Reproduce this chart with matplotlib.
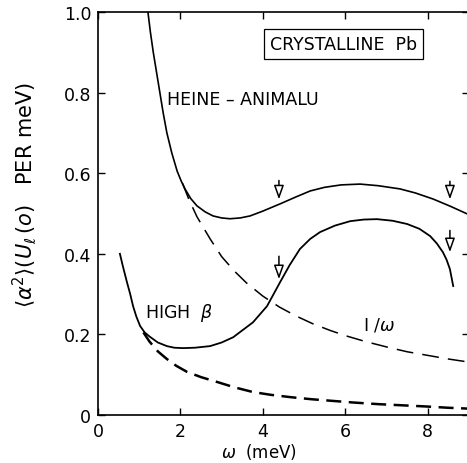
import matplotlib
matplotlib.use('Agg')
import matplotlib.pyplot as plt

# Heine-Animalu (solid)
heine_x = [1.21, 1.27, 1.34, 1.42, 1.50, 1.58, 1.67, 1.79, 1.92, 2.02, 2.11, 2.25, 2.40, 2.6,
           2.79, 3.0, 3.2, 3.45, 3.69, 4.0, 4.42, 4.8, 5.15, 5.5, 5.9, 6.36, 6.8, 7.33, 7.7,
           8.13, 8.55, 8.96]
heine_y = [1.0, 0.95, 0.90, 0.85, 0.80, 0.75, 0.70, 0.65, 0.605, 0.58, 0.561, 0.537, 0.519, 0.504,
           0.494, 0.489, 0.487, 0.489, 0.494, 0.506, 0.524, 0.541, 0.556, 0.565, 0.571, 0.573,
           0.569, 0.561, 0.551, 0.536, 0.518, 0.499]

# 1/omega (long dashes)
inv_x = [2.05, 2.2, 2.4, 2.72, 3.0, 3.3, 3.6, 4.0, 4.4, 4.8, 5.2, 5.63, 6.0, 6.5, 7.0, 7.5,
         8.0, 8.5, 8.96]
inv_y = [0.575, 0.536, 0.492, 0.437, 0.393, 0.358, 0.328, 0.295, 0.268, 0.246, 0.227, 0.21,
         0.197, 0.182, 0.169, 0.157, 0.148, 0.139, 0.132]

# high beta (solid)
hb_x = [0.53, 0.6, 0.7, 0.78, 0.85, 0.93, 1.02, 1.13, 1.26, 1.45, 1.67, 1.85, 2.06, 2.35, 2.72,
        3.0, 3.28, 3.5, 3.76, 3.93, 4.1, 4.25, 4.42, 4.65, 4.9, 5.15, 5.39, 5.75, 6.12, 6.45,
        6.77, 7.15, 7.5, 7.8, 8.06, 8.22, 8.37, 8.46, 8.54, 8.62]
hb_y = [0.40, 0.37, 0.33, 0.30, 0.27, 0.244, 0.221, 0.205, 0.194, 0.18, 0.171, 0.167, 0.166,
        0.167, 0.171, 0.18, 0.193, 0.21, 0.23, 0.25, 0.27, 0.298, 0.33, 0.372, 0.412, 0.437,
        0.454, 0.47, 0.481, 0.485, 0.486, 0.482, 0.474, 0.462, 0.444, 0.426, 0.404, 0.385,
        0.362, 0.32]

# lower curve (short dashes)
low_x = [1.1, 1.25, 1.45, 1.67, 1.9, 2.16, 2.5, 2.89, 3.3, 3.76, 4.2, 4.7, 5.2, 5.7, 6.2,
         6.8, 7.4, 8.0, 8.5, 8.96]
low_y = [0.205, 0.182, 0.158, 0.139, 0.122, 0.107, 0.094, 0.082, 0.069, 0.057, 0.05, 0.044,
         0.039, 0.035, 0.031, 0.027, 0.024, 0.021, 0.018, 0.016]

# arrows: x, y start, y end
arrow_x = [4.39, 4.39, 8.54, 8.54]
arrow_y0 = [0.582, 0.394, 0.58, 0.458]
arrow_y1 = [0.535, 0.337, 0.535, 0.404]

xticks = [0, 2, 4, 6, 8]
yticks = [0, 0.2, 0.4, 0.6, 0.8, 1.0]
ytick_labels = ['0', '0.2', '0.4', '0.6', '0.8', '1.0']

plt.rcParams['mathtext.fontset'] = 'dejavusans'

fig = plt.figure(figsize=(4.67, 4.64), dpi=100)
ax = fig.add_axes([0.21, 0.1034, 0.794, 0.8686])

ax.plot(heine_x, heine_y, color='black', lw=1.2)
ax.plot(inv_x, inv_y, color='black', lw=1.1, dashes=(11, 6))
ax.plot(hb_x, hb_y, color='black', lw=1.3)
ax.plot(low_x, low_y, color='black', lw=1.8, dashes=(6, 3))

for x, y0, y1 in zip(arrow_x, arrow_y0, arrow_y1):
    ax.annotate('', xy=(x, y1), xytext=(x, y0),
                arrowprops=dict(arrowstyle='-|>,head_length=0.7,head_width=0.25',
                                color='black', lw=1.1, fc='white',
                                shrinkA=0, shrinkB=0, mutation_scale=12))

ax.text(1.67, 0.784, 'HEINE – ANIMALU', fontsize=12.5, va='center', ha='left')
ax.text(1.14, 0.256, r'HIGH  $\beta$', fontsize=12.5, va='center', ha='left')
ax.text(6.43, 0.225, r'I /$\omega$', fontsize=12.5, va='center', ha='left')
ax.text(5.96, 0.92, 'CRYSTALLINE  Pb', fontsize=12.5, va='center', ha='center',
        bbox=dict(boxstyle='square,pad=0.35', fc='white', ec='black', lw=0.9))

ax.set_xlim(0, 9)
ax.set_ylim(0, 1.0)
ax.set_xticks(xticks)
ax.set_xticklabels([str(t) for t in xticks])
ax.set_yticks(yticks)
ax.set_yticklabels(ytick_labels)
ax.tick_params(direction='in', top=True, right=True, length=5, width=1,
               labelsize=12.5, pad=5)
for s in ax.spines.values():
    s.set_linewidth(1.2)

ax.text(3.9, -0.09, r'$\omega$  (meV)', fontsize=12, ha='center', va='center')
ax.set_ylabel(r'$\langle\alpha^2\rangle(U_\ell\,(o)$   PER meV$)$', fontsize=15)
ax.yaxis.set_label_coords(-0.16, 0.548)

fig.savefig('out.png', dpi=100)
